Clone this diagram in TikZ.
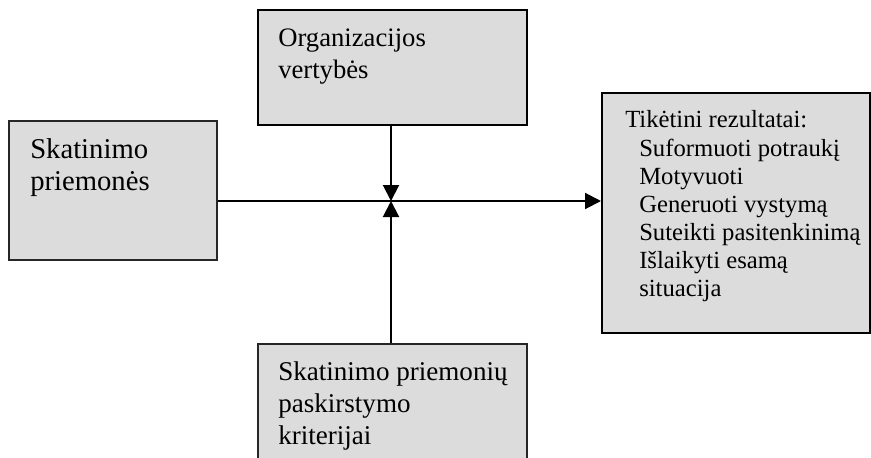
\documentclass[tikz,border=0pt]{standalone}
\usepackage{fontspec}
\setmainfont{Liberation Serif}
\usetikzlibrary{arrows.meta,fit}
\definecolor{boxgray}{RGB}{220,220,220}
\begin{document}
\begin{tikzpicture}[x=0.75pt,y=-0.75pt,
  box/.style={fill=boxgray, inner sep=0pt},
  thinbox/.style={box, draw=black!85, line width=0.8pt},
  thickbox/.style={box, draw=black, line width=1.5pt},
  link/.style={line width=1.5pt, -{Triangle[length=12pt,width=12pt]}},
  bigtxt/.style={anchor=base west, inner sep=0pt, font=\fontsize{21.5}{24}\selectfont},
  lowtxt/.style={anchor=base west, inner sep=0pt, font=\fontsize{20.3}{24}\selectfont},
  midtxt/.style={anchor=base west, inner sep=0pt, font=\fontsize{20}{24}\selectfont},
  smalltxt/.style={anchor=base west, inner sep=0pt, font=\fontsize{18.5}{21}\selectfont}]
\useasboundingbox (0,0) rectangle (871,457);
\clip (0,0) rectangle (871,457);

% boxes
\node[thinbox, fit={(9,121) (217,260)}] (means) {};
\node[thickbox, fit={(258,10) (527,125)}] (values) {};
\node[thickbox, fit={(602,93) (870,333)}] (results) {};
\node[thinbox, fit={(258,344) (527,480)}] (criteria) {};

% junction of the three inputs
\coordinate (j) at (391,201);

% labels
\node[bigtxt] (m1) at (30,158) {Skatinimo};
\node[bigtxt] (m2) at (30,190) {priemonės};

\node[midtxt] (v1) at (278,46) {Organizacijos};
\node[midtxt] (v2) at (278,78) {vertybės};

\node[smalltxt] (r0) at (625,127) {Tikėtini rezultatai:};
\node[smalltxt] (r1) at (639,156) {Suformuoti potraukį};
\node[smalltxt] (r2) at (639,184) {Motyvuoti};
\node[smalltxt] (r3) at (639,212) {Generuoti vystymą};
\node[smalltxt] (r4) at (639,240) {Suteikti pasitenkinimą};
\node[smalltxt] (r5) at (639,268) {Išlaikyti esamą};
\node[smalltxt] (r6) at (639,296) {situacija};

\node[lowtxt] (c1) at (278,380) {Skatinimo priemonių};
\node[lowtxt] (c2) at (278,412) {paskirstymo};
\node[lowtxt] (c3) at (278,444) {kriterijai};

% connectors
\draw[link] (means.east |- j) -- (results.west |- j);
\draw[link] (values.south -| j) -- (j);
\draw[link] (criteria.north -| j) -- (j);
\end{tikzpicture}
\end{document}
